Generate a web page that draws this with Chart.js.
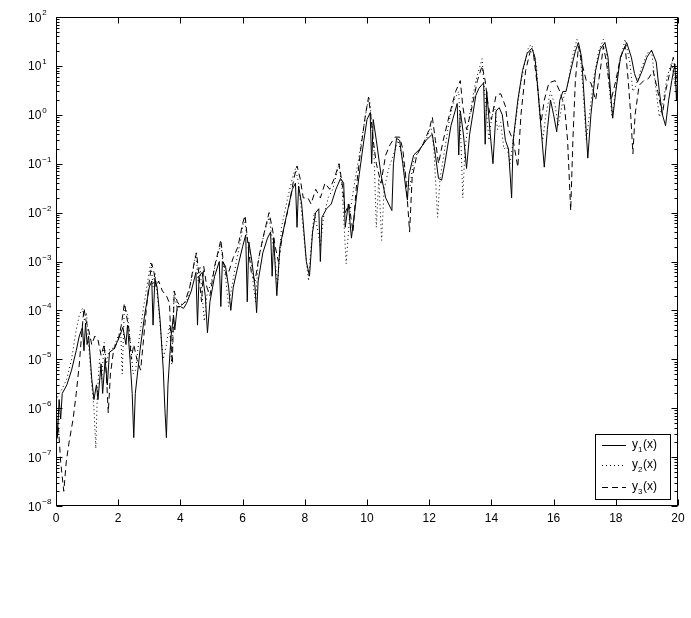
<!DOCTYPE html>
<html>
<head>
<meta charset="utf-8">
<script src="https://cdn.jsdelivr.net/npm/chart.js@4/dist/chart.umd.min.js"></script>
<style>
html,body{margin:0;padding:0;background:#fff;}
#wrap{width:691px;height:618px;}
</style>
</head>
<body>
<div id="wrap"><canvas id="c" width="691" height="618"></canvas></div>
<script>
// x tick values / labels
const xTicks = [0, 2, 4, 6, 8, 10, 12, 14, 16, 18, 20];
// y decade exponents
const yExponents = [2, 1, 0, -1, -2, -3, -4, -5, -6, -7, -8];
const seriesNames = ['1', '2', '3'];

// y1(x), solid  [x, value]
const y1Data = [[0,1e-6],[0.05,3e-7],[0.1,1.5e-6],[0.15,6e-7],[0.2,2e-6],[0.35,3e-6],[0.5,6e-6],[0.65,1.5e-5],[0.75,3e-5],[0.85,4.5e-5],[0.9,1.5e-5],[0.95,5.5e-5],[1.0,2e-5],[1.05,3e-5],[1.15,4e-6],[1.22,1.5e-6],[1.3,3e-6],[1.35,1.5e-6],[1.45,8e-6],[1.5,2e-6],[1.58,1e-5],[1.65,3e-6],[1.72,1.4e-5],[1.85,1.6e-5],[2.0,2.5e-5],[2.15,4.5e-5],[2.25,2e-5],[2.3,5e-5],[2.38,1e-5],[2.45,2e-6],[2.5,2.5e-7],[2.55,2e-6],[2.7,1.5e-5],[2.85,8e-5],[3.0,3e-4],[3.08,4e-4],[3.12,5e-5],[3.18,4.5e-4],[3.25,3e-4],[3.35,6e-5],[3.45,6e-6],[3.5,1e-6],[3.55,2.5e-7],[3.6,3e-6],[3.7,3e-5],[3.78,8e-5],[3.82,4e-5],[3.9,1.2e-4],[4.0,1.2e-4],[4.1,1.1e-4],[4.2,1.4e-4],[4.35,2.5e-4],[4.5,6e-4],[4.55,5e-5],[4.6,5e-4],[4.7,6e-4],[4.8,2e-4],[4.87,3.5e-5],[4.95,1.5e-4],[5.1,5e-4],[5.25,1e-3],[5.3,1.2e-4],[5.35,1e-3],[5.45,8e-4],[5.55,3e-4],[5.62,1e-4],[5.7,3e-4],[5.85,8e-4],[6.0,2e-3],[6.1,3.5e-3],[6.15,1.5e-4],[6.2,2.5e-3],[6.3,1e-3],[6.4,3e-4],[6.45,9e-5],[6.5,4e-4],[6.65,1.5e-3],[6.8,3e-3],[6.9,4e-3],[6.95,5e-4],[7.0,3e-3],[7.1,2e-4],[7.2,2e-3],[7.4,8e-3],[7.6,3e-2],[7.7,4e-2],[7.75,5e-3],[7.8,3.5e-2],[7.9,1.5e-2],[8.05,1e-3],[8.15,5e-4],[8.25,4e-3],[8.35,1e-2],[8.45,1.2e-2],[8.5,1e-3],[8.55,8e-3],[8.7,1.2e-2],[8.85,1.5e-2],[9.0,3e-2],[9.15,5e-2],[9.25,4e-2],[9.3,5e-3],[9.4,1.5e-2],[9.5,3e-3],[9.6,1e-2],[9.75,6e-2],[9.9,0.3],[10.0,0.8],[10.1,1.1],[10.15,0.1],[10.2,0.8],[10.3,0.3],[10.45,0.06],[10.6,0.02],[10.8,0.011],[10.85,0.1],[10.95,0.33],[11.05,0.3],[11.15,0.1],[11.25,0.03],[11.3,0.018],[11.35,0.06],[11.5,0.15],[11.7,0.2],[11.9,0.3],[12.0,0.35],[12.1,0.4],[12.2,0.15],[12.3,0.05],[12.4,0.046],[12.5,0.1],[12.7,0.6],[12.9,1.7],[12.95,0.15],[13.0,1.2],[13.1,0.4],[13.2,0.08],[13.3,0.4],[13.5,2.5],[13.6,3.5],[13.75,4.5],[13.8,0.25],[13.85,3],[13.95,0.5],[14.05,0.1],[14.15,1.2],[14.25,1.4],[14.35,1.0],[14.45,0.3],[14.55,0.2],[14.65,0.02],[14.7,0.3],[14.85,2],[15.0,8],[15.15,18],[15.3,23],[15.4,15],[15.5,3],[15.6,0.5],[15.7,0.085],[15.8,0.5],[15.9,2],[16.0,1],[16.1,0.45],[16.2,2],[16.3,3],[16.4,3],[16.55,8],[16.7,20],[16.8,30],[16.9,15],[17.0,1.5],[17.1,0.13],[17.2,1],[17.35,8],[17.5,22],[17.65,30],[17.75,15],[17.85,2],[17.9,0.85],[18.0,3],[18.15,15],[18.35,30],[18.5,15],[18.6,7],[18.7,4.7],[18.85,8],[19.0,15],[19.15,21],[19.3,12],[19.4,3],[19.5,1],[19.6,0.6],[19.7,2],[19.8,5],[19.9,11],[19.95,2],[20.0,8]];

// y2(x), dotted
const y2Data = [[0,1.4e-6],[0.1,2e-6],[0.2,2.5e-6],[0.35,4e-6],[0.5,1e-5],[0.65,4e-5],[0.75,8e-5],[0.85,1.1e-4],[0.92,6e-5],[0.98,9e-5],[1.05,2e-5],[1.15,3e-6],[1.22,1e-6],[1.28,1.5e-7],[1.33,2e-6],[1.4,1e-5],[1.47,4e-6],[1.55,2.2e-5],[1.62,8e-6],[1.72,1.6e-5],[1.85,1.7e-5],[2.0,3e-5],[2.08,4e-5],[2.13,5e-6],[2.2,1.3e-4],[2.3,8e-5],[2.4,2e-5],[2.48,5e-6],[2.56,6e-6],[2.65,2e-5],[2.8,1e-4],[2.95,4e-4],[3.05,1e-3],[3.12,3e-4],[3.18,6e-4],[3.28,1.5e-4],[3.38,3e-5],[3.45,1e-5],[3.55,2e-5],[3.65,5e-5],[3.72,8e-6],[3.8,2.5e-4],[3.9,1e-4],[4.0,1.3e-4],[4.2,1.5e-4],[4.35,4e-4],[4.5,1.5e-3],[4.57,4e-4],[4.63,8e-4],[4.7,2e-4],[4.77,6e-5],[4.85,2e-4],[5.0,4e-4],[5.15,1e-3],[5.3,2.3e-3],[5.38,8e-4],[5.45,5e-4],[5.55,1.2e-4],[5.65,3e-4],[5.8,1e-3],[5.95,3e-3],[6.05,8e-3],[6.15,3e-3],[6.25,1.5e-3],[6.35,3e-4],[6.42,1.5e-4],[6.5,1e-3],[6.7,4e-3],[6.85,8e-3],[6.95,3e-3],[7.05,1e-3],[7.12,3e-4],[7.25,5e-3],[7.45,2e-2],[7.6,5e-2],[7.7,8e-2],[7.8,4e-2],[7.9,1e-2],[8.0,2e-3],[8.12,4e-4],[8.2,2e-3],[8.3,1e-2],[8.4,5e-3],[8.5,2e-3],[8.6,8e-3],[8.75,2e-2],[8.9,3e-2],[9.1,0.1],[9.2,0.03],[9.33,9e-4],[9.45,1e-2],[9.6,4e-2],[9.75,0.15],[9.9,0.6],[10.0,1.5],[10.08,2.2],[10.15,0.7],[10.22,0.2],[10.3,5e-3],[10.38,0.05],[10.47,2.7e-3],[10.55,0.03],[10.7,0.08],[10.85,0.15],[11.0,0.3],[11.15,0.12],[11.25,0.05],[11.37,0.03],[11.5,0.12],[11.7,0.2],[11.9,0.3],[12.05,0.6],[12.15,0.2],[12.27,8e-3],[12.35,0.05],[12.5,0.2],[12.65,0.8],[12.8,2],[12.95,3],[13.02,0.3],[13.08,0.02],[13.15,0.2],[13.3,1],[13.5,5],[13.7,14],[13.78,3],[13.85,1],[13.92,0.3],[14.0,0.8],[14.1,1.5],[14.2,0.5],[14.3,0.7],[14.4,0.2],[14.5,0.22],[14.6,0.1],[14.75,0.5],[14.9,3],[15.05,10],[15.2,25],[15.3,27],[15.45,10],[15.55,1],[15.65,0.3],[15.75,1],[15.9,3],[16.05,1.5],[16.15,0.6],[16.3,2],[16.45,4],[16.6,15],[16.75,35],[16.85,20],[16.95,3],[17.05,0.3],[17.15,1],[17.3,6],[17.45,20],[17.6,35],[17.7,20],[17.8,3],[17.88,0.9],[17.95,2],[18.1,10],[18.3,35],[18.45,12],[18.55,3],[18.65,4],[18.8,8],[19.0,18],[19.15,20],[19.3,3],[19.4,0.9],[19.5,1.5],[19.65,6],[19.8,12],[19.9,4],[20.0,10]];

// y3(x), dashed
const y3Data = [[0,1.5e-7],[0.08,4e-7],[0.15,8e-8],[0.25,2e-8],[0.33,8e-8],[0.42,2e-7],[0.55,6e-7],[0.65,2e-6],[0.75,8e-6],[0.82,3e-5],[0.9,1.1e-4],[0.97,6e-5],[1.05,4e-5],[1.15,2e-5],[1.25,3e-5],[1.35,2.5e-5],[1.45,1.2e-5],[1.55,2e-5],[1.62,5e-6],[1.68,8e-7],[1.75,5e-6],[1.85,1.5e-5],[2.0,2.5e-5],[2.1,5e-5],[2.2,1.4e-4],[2.28,7e-5],[2.35,4e-5],[2.42,1e-5],[2.5,2e-5],[2.6,1e-5],[2.72,6e-6],[2.8,2e-5],[2.9,1e-4],[3.0,4e-4],[3.08,9e-4],[3.15,6e-4],[3.22,3e-4],[3.3,4e-4],[3.42,2.5e-4],[3.55,2e-4],[3.65,1.4e-4],[3.7,2e-5],[3.74,8e-6],[3.8,2.5e-4],[3.9,1.5e-4],[4.0,1.2e-4],[4.15,1.5e-4],[4.3,3e-4],[4.45,1e-3],[4.52,1.5e-3],[4.6,5e-4],[4.68,1.5e-4],[4.75,8e-4],[4.85,3e-4],[4.95,2e-4],[5.1,8e-4],[5.25,2e-3],[5.3,2.8e-3],[5.38,1e-3],[5.48,5e-4],[5.55,6e-4],[5.7,1.2e-3],[5.85,2e-3],[6.0,6e-3],[6.08,8.7e-3],[6.18,2e-3],[6.28,6e-4],[6.4,4e-4],[6.55,1.5e-3],[6.7,4e-3],[6.85,1e-2],[6.95,5e-3],[7.05,2e-3],[7.15,1e-3],[7.3,4e-3],[7.5,1.5e-2],[7.65,5e-2],[7.75,9e-2],[7.85,5e-2],[7.95,2e-2],[8.1,2e-2],[8.2,1.5e-2],[8.35,3e-2],[8.5,2e-2],[8.65,4e-2],[8.8,3e-2],[8.95,5e-2],[9.1,0.1],[9.2,0.04],[9.3,1e-2],[9.42,1.5e-2],[9.55,4e-3],[9.65,3e-2],[9.8,0.2],[9.95,1],[10.05,2.3],[10.12,1],[10.2,0.3],[10.3,0.1],[10.45,0.04],[10.6,0.15],[10.75,0.25],[10.9,0.35],[11.05,0.35],[11.15,0.2],[11.25,0.05],[11.37,4e-3],[11.45,0.05],[11.6,0.15],[11.8,0.25],[12.0,0.5],[12.1,0.9],[12.2,0.3],[12.3,0.1],[12.45,0.3],[12.65,1],[12.85,3],[13.0,5],[13.08,1.5],[13.2,0.5],[13.35,1.2],[13.55,5],[13.7,10],[13.8,5],[13.9,1.5],[14.0,0.8],[14.15,2.5],[14.3,2.7],[14.45,1.5],[14.55,0.5],[14.7,0.3],[14.85,0.085],[14.95,1],[15.1,8],[15.25,20],[15.35,18],[15.5,3],[15.6,0.7],[15.7,2],[15.85,4.5],[16.05,5],[16.2,3],[16.35,1.5],[16.45,0.3],[16.55,0.011],[16.62,0.3],[16.7,5],[16.8,25],[16.9,12],[17.05,5],[17.2,4.5],[17.35,2],[17.5,8],[17.6,25],[17.7,12],[17.85,2],[18.0,5],[18.15,15],[18.3,25],[18.4,5],[18.48,1],[18.55,0.16],[18.62,1],[18.75,4],[18.9,5],[19.05,5.5],[19.2,8],[19.35,3],[19.5,1],[19.6,3],[19.75,8],[19.85,15],[19.95,5],[20.0,7]];

const FONT = "'Liberation Sans', Arial, Helvetica, sans-serif";
const dashes = [[], [1, 3], [6, 4]];
const allData = [y1Data, y2Data, y3Data];

const axesPlugin = {
  id: 'matlabAxes',
  afterDatasetsDraw(chart) {
    const ctx = chart.ctx;
    const a = chart.chartArea;
    const xs = chart.scales.x, ys = chart.scales.y;
    ctx.save();
    ctx.strokeStyle = '#000';
    ctx.fillStyle = '#000';
    ctx.lineWidth = 1;
    ctx.setLineDash([]);
    // frame
    const L = Math.round(a.left) + 0.5, R = Math.round(a.right) - 0.5;
    const T = Math.round(a.top) + 0.5, B = Math.round(a.bottom) - 0.5;
    ctx.strokeRect(L, T, R - L, B - T);
    ctx.beginPath();
    // x ticks (inward, top and bottom)
    xTicks.forEach(v => {
      const px = Math.round(xs.getPixelForValue(v)) + 0.5;
      ctx.moveTo(px, B); ctx.lineTo(px, B - 6);
      ctx.moveTo(px, T); ctx.lineTo(px, T + 6);
    });
    // y ticks (major + minor, left and right)
    yExponents.forEach(e => {
      const py = Math.round(ys.getPixelForValue(Math.pow(10, e))) + 0.5;
      ctx.moveTo(L, py); ctx.lineTo(L + 6, py);
      ctx.moveTo(R, py); ctx.lineTo(R - 6, py);
      if (e > -8) {
        for (let m = 2; m <= 9; m++) {
          const pm = Math.round(ys.getPixelForValue(m * Math.pow(10, e - 1))) + 0.5;
          ctx.moveTo(L, pm); ctx.lineTo(L + 3, pm);
          ctx.moveTo(R, pm); ctx.lineTo(R - 3, pm);
        }
      }
    });
    ctx.stroke();
    // x labels
    ctx.font = '12px ' + FONT;
    ctx.textAlign = 'center';
    ctx.textBaseline = 'alphabetic';
    xTicks.forEach(v => {
      ctx.fillText(String(v), xs.getPixelForValue(v), a.bottom + 16);
    });
    // y labels 10^e
    yExponents.forEach(e => {
      const py = ys.getPixelForValue(Math.pow(10, e));
      ctx.textAlign = 'left';
      ctx.font = '12px ' + FONT;
      ctx.fillText('10', 28, py + 4.5);
      const w = ctx.measureText('10').width;
      ctx.font = '8px ' + FONT;
      ctx.fillText(e < 0 ? '\u2212' + Math.abs(e) : String(e), 28 + w + 1, py - 2);
    });
    // legend box
    const bx = 595.5, by = 434.5, bw = 75, bh = 65;
    ctx.fillStyle = '#fff';
    ctx.fillRect(bx, by, bw, bh);
    ctx.strokeRect(bx, by, bw, bh);
    ctx.fillStyle = '#000';
    const rowY = [445.5, 465.5, 487.5];
    seriesNames.forEach((n, i) => {
      ctx.beginPath();
      ctx.setLineDash(dashes[i]);
      ctx.moveTo(602, rowY[i]);
      ctx.lineTo(626, rowY[i]);
      ctx.stroke();
      ctx.setLineDash([]);
      ctx.textAlign = 'left';
      ctx.font = '12px ' + FONT;
      const tx = 632, ty = rowY[i] + 2;
      ctx.fillText('y', tx, ty);
      const wy = ctx.measureText('y').width;
      ctx.font = '8px ' + FONT;
      ctx.fillText(n, tx + wy, ty + 4);
      const wn = ctx.measureText(n).width;
      ctx.font = '12px ' + FONT;
      ctx.fillText('(x)', tx + wy + wn + 0.5, ty);
    });
    ctx.restore();
  }
};

new Chart(document.getElementById('c'), {
  type: 'line',
  data: {
    datasets: allData.map((d, i) => ({
      label: 'y' + seriesNames[i] + '(x)',
      data: d.map(p => ({x: p[0], y: p[1]})),
      borderColor: '#000',
      borderWidth: 1,
      borderDash: dashes[i],
      pointRadius: 0,
      fill: false,
      tension: 0
    }))
  },
  options: {
    responsive: false,
    animation: false,
    devicePixelRatio: 1,
    layout: { padding: { left: 56, top: 17, right: 13, bottom: 112 } },
    plugins: { legend: { display: false }, tooltip: { enabled: false }, title: { display: false } },
    scales: {
      x: { type: 'linear', min: 0, max: 20, display: false },
      y: { type: 'logarithmic', min: 1e-8, max: 100, display: false }
    }
  },
  plugins: [axesPlugin]
});
</script>
</body>
</html>
